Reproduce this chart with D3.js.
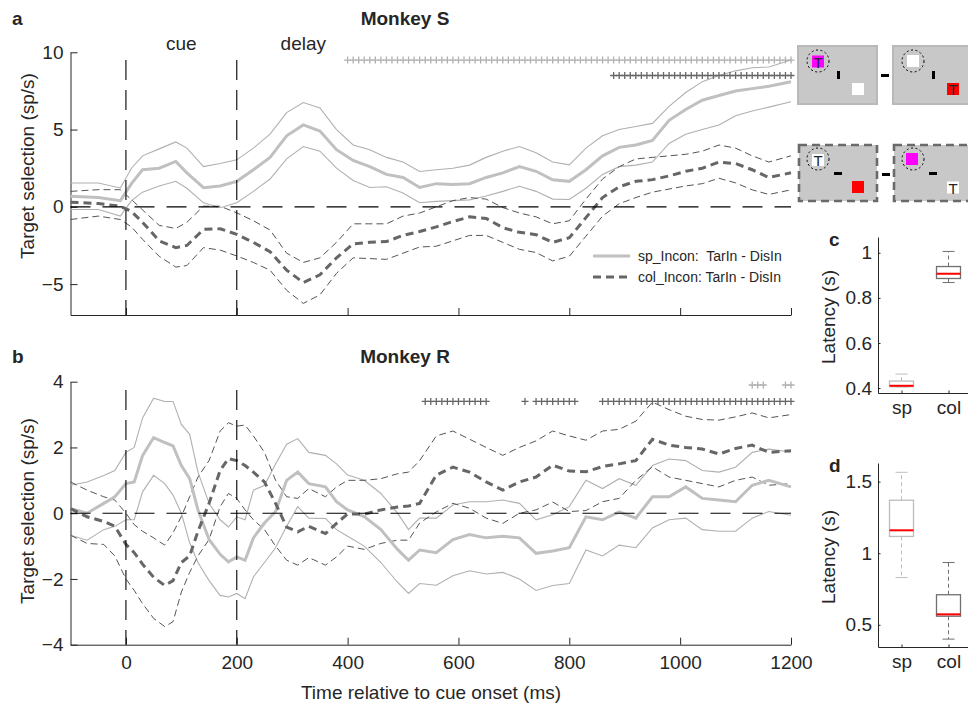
<!DOCTYPE html>
<meta charset="utf-8">
<script src="https://d3js.org/d3.v7.min.js"></script>
<style>
  body { margin: 0; background: #fff; }
  svg text { font-family: "Liberation Sans", Arial, sans-serif; fill: #262626; }
</style>
<div id="fig"></div>
<script>

// ---------- data: panel a (Monkey S) ----------
const timeA = [-100,-50,-10,10,30,60,90,110,140,170,200,230,260,290,320,350,380,410,440,470,500,530,560,590,620,650,680,710,740,770,800,830,860,890,920,950,980,1010,1040,1070,1100,1130,1160,1200];
const spMeanA = [0.68,0.6,0.4,1.5,2.4,2.5,2.94,2.2,1.24,1.35,1.65,2.4,3.2,4.6,5.3,4.9,3.7,3.0,2.6,2.1,1.9,1.25,1.5,1.44,1.5,1.9,2.2,2.6,2.3,1.75,1.65,2.4,3.3,3.85,4.0,4.3,5.6,6.3,6.9,7.2,7.5,7.65,7.8,8.1];
const spHiA = [1.54,1.54,1.22,2.5,3.3,3.75,4.2,3.8,2.6,2.8,3.04,3.8,4.7,6.1,6.75,6.4,5.0,4.0,3.7,3.2,2.9,2.29,2.4,2.5,2.7,3.2,3.6,3.9,3.5,2.9,2.72,3.8,4.6,5.0,5.2,5.4,6.5,7.4,8.1,8.5,8.8,9.0,9.05,9.5];
const spLoA = [-0.17,-0.17,-0.6,0.4,0.95,1.35,1.65,1.2,0.26,-0.06,0.26,1.0,1.8,3.1,3.9,3.6,2.5,1.7,1.25,1.3,0.9,0.26,0.35,0.4,0.45,0.7,1.0,1.33,1.0,0.5,0.47,1.2,2.1,2.6,2.7,2.9,4.1,4.7,5.0,5.3,5.9,6.2,6.45,6.8];
const colMeanA = [0.3,0.21,0.04,-0.3,-1.0,-2.2,-2.64,-2.5,-1.46,-1.42,-1.78,-2.3,-2.9,-4.1,-4.9,-4.4,-3.3,-2.4,-2.3,-2.25,-1.85,-1.6,-1.3,-0.95,-0.65,-0.75,-1.35,-1.65,-1.8,-2.3,-2.0,-0.7,0.6,1.3,1.65,1.76,2.0,2.3,2.5,2.9,2.8,2.4,1.9,2.2];
const colHiA = [1.0,1.11,1.11,0.47,-0.2,-1.2,-1.4,-1.0,0.04,0.04,-0.39,-0.9,-1.5,-3.0,-3.6,-3.3,-2.3,-1.1,-1.1,-1.1,-0.6,-0.4,0.0,0.4,0.6,0.5,-0.05,-0.4,-0.65,-1.1,-0.9,0.5,1.8,2.6,3.1,3.2,3.3,3.4,3.6,4.0,3.8,3.3,2.9,3.3];
const colLoA = [-0.82,-0.6,-0.82,-1.3,-2.1,-3.2,-3.9,-3.8,-2.64,-2.8,-3.18,-3.6,-4.1,-5.4,-6.25,-5.7,-4.3,-3.3,-3.35,-3.4,-3.0,-2.6,-2.55,-2.2,-1.85,-1.85,-2.3,-2.75,-2.96,-3.5,-3.2,-1.9,-0.6,0.2,0.6,0.95,1.15,1.35,1.5,1.85,1.55,1.1,0.8,1.1];
// significant time windows (ms), one "+" per 10 ms bin
const sigSpA = [[400, 1200]];
const sigColA = [[880, 1200]];

// ---------- data: panel b (Monkey R) ----------
const timeB = [-100,-70,-40,-20,0,15,30,50,70,85,100,115,130,150,170,185,200,215,230,250,270,290,310,330,360,380,400,430,460,490,510,530,560,590,620,650,680,710,740,770,800,830,860,890,920,950,980,1010,1040,1070,1100,1130,1160,1200];
const spMeanB = [0.14,0.0,0.3,0.5,0.9,0.95,1.75,2.3,2.15,2.05,1.45,1.05,0.1,-0.8,-1.25,-1.48,-1.33,-1.43,-0.75,-0.3,0.05,1.0,1.25,0.9,0.8,0.35,0.1,-0.1,-0.5,-1.1,-1.43,-1.12,-1.2,-0.8,-0.65,-0.75,-0.7,-0.75,-1.22,-1.15,-1.05,-0.11,-0.2,0.04,-0.15,0.5,0.5,0.8,0.45,0.4,0.35,0.85,1.0,0.8];
const spHiB = [0.85,0.95,1.15,1.3,1.85,2.0,2.9,3.5,3.4,3.4,2.7,2.4,1.25,0.3,-0.2,-0.42,-0.11,-0.2,0.7,0.85,1.5,2.1,2.27,1.85,1.76,1.5,1.16,1.0,0.6,0.0,-0.5,-0.15,-0.15,0.25,0.35,0.35,0.4,0.3,-0.2,-0.05,0.2,1.0,0.75,1.05,0.85,1.45,1.65,1.6,1.3,1.25,1.4,1.85,1.95,1.86];
const spLoB = [-0.67,-0.82,-0.5,-0.4,-0.2,-0.2,0.65,1.15,0.9,0.55,0.0,-0.9,-1.5,-2.05,-2.5,-2.55,-2.44,-2.6,-1.94,-1.5,-1.05,-0.4,0.2,-0.15,-0.16,-0.5,-0.7,-1.0,-1.5,-2.1,-2.44,-2.14,-2.19,-1.9,-1.75,-1.85,-1.8,-2.0,-2.35,-2.2,-2.14,-1.12,-1.3,-0.97,-1.05,-0.45,-0.2,-0.15,-0.5,-0.55,-0.55,-0.15,0.05,-0.06];
const colMeanB = [0.14,-0.11,-0.25,-0.4,-0.95,-1.2,-1.55,-1.95,-2.2,-2.05,-1.5,-1.3,-0.55,0.3,1.3,1.66,1.6,1.45,1.25,0.95,0.3,-0.42,-0.57,-0.4,-0.62,-0.31,-0.02,-0.03,0.1,0.19,0.22,0.3,1.16,1.4,1.25,0.95,0.7,0.95,1.1,1.46,1.28,1.26,1.42,1.5,1.6,2.25,2.07,2.0,1.95,1.8,1.97,2.07,1.85,1.9];
const colHiB = [0.95,0.7,0.5,0.4,0.0,-0.35,-0.55,-0.75,-0.97,-0.6,-0.1,0.5,1.1,1.6,2.5,2.75,2.65,2.68,2.35,1.85,1.0,0.5,0.45,0.75,0.5,0.8,1.0,1.0,1.05,1.2,1.25,1.6,2.35,2.5,2.25,2.0,1.76,2.0,2.2,2.5,2.35,2.22,2.5,2.55,2.8,3.38,3.15,2.95,2.85,2.83,2.93,3.05,2.9,3.0];
const colLoB = [-0.67,-0.92,-0.95,-1.3,-2.0,-2.35,-2.75,-3.2,-3.45,-3.3,-2.4,-1.8,-1.3,-0.8,0.2,0.6,0.45,0.1,-0.2,-0.5,-1.0,-1.43,-1.58,-1.35,-1.58,-1.33,-1.0,-1.1,-0.92,-0.82,-0.82,-0.3,0.04,0.3,0.15,-0.15,-0.31,0.0,0.1,0.34,0.05,0.08,0.35,0.45,1.0,1.41,1.1,1.0,0.9,0.8,1.0,1.1,0.85,0.9];
const sigSpB = [[1130, 1130], [1140, 1150], [1190, 1200]];
const sigColB = [[540, 650], [720, 720], [740, 810], [860, 1200]];

// ---------- data: latency box plots (c, d) ----------
const boxCats = ["sp", "col"];
// [lower whisker, q1, median, q3, upper whisker]
const latencyS = [[0.405, 0.406, 0.41, 0.431, 0.462], [0.868, 0.886, 0.907, 0.939, 1.006]];
const latencyR = [[0.83, 1.117, 1.16, 1.37, 1.565], [0.40, 0.56, 0.573, 0.71, 0.935]];

const xTicks = [0, 200, 400, 600, 800, 1000, 1200];
const yTicksA = [-5, 0, 5, 10];
const yTicksB = [-4, -2, 0, 2, 4];

// ---------- figure ----------
const W = 968, H = 703;
const svg = d3.select("#fig").append("svg").attr("width", W).attr("height", H);

const spThick = "#c0c0c0", spThin = "#b0b0b0", colThick = "#666666", colThin = "#555555";
const ink = "#262626";

function styleAxis(g, fs) {
  g.select(".domain").attr("stroke", ink);
  g.selectAll(".tick line").attr("stroke", ink);
  g.selectAll(".tick text").style("font-size", fs + "px").attr("fill", ink);
}

function tracePanel(o) {
  const x = d3.scaleLinear().domain([-100, 1200]).range([70.5, 791]);
  const y = d3.scaleLinear().domain(o.yDomain).range(o.yRange);
  const g = svg.append("g");

  // axes
  const xa = g.append("g").attr("transform", `translate(0,${o.yRange[0]})`)
    .call(d3.axisBottom(x).tickValues(xTicks).tickSizeInner(-7).tickSizeOuter(0).tickPadding(11)
      .tickFormat(o.xLabels ? d3.format("d") : ""));
  styleAxis(xa, 19);
  const ya = g.append("g").attr("transform", `translate(70.5,0)`)
    .call(d3.axisLeft(y).tickValues(o.yTicks).tickSizeInner(-7).tickSizeOuter(0).tickPadding(7));
  styleAxis(ya, 19);

  const line = d3.line().x((d, i) => x(o.t[i])).y(d => y(d));

  // confidence bounds
  [o.spHi, o.spLo].forEach(s => g.append("path").attr("d", line(s))
    .attr("fill", "none").attr("stroke", spThin).attr("stroke-width", 1.1));
  [o.colHi, o.colLo].forEach(s => g.append("path").attr("d", line(s))
    .attr("fill", "none").attr("stroke", colThin).attr("stroke-width", 1)
    .attr("stroke-dasharray", "7,4"));
  // means
  g.append("path").attr("d", line(o.spMean)).attr("fill", "none")
    .attr("stroke", spThick).attr("stroke-width", 3);
  g.append("path").attr("d", line(o.colMean)).attr("fill", "none")
    .attr("stroke", colThick).attr("stroke-width", 3).attr("stroke-dasharray", "8,5");

  // reference lines
  g.append("line").attr("x1", x(-100)).attr("x2", x(1200)).attr("y1", y(0)).attr("y2", y(0))
    .attr("stroke", "#000").attr("stroke-width", 1.1).attr("stroke-dasharray", "20,12");
  [0, 200].forEach(t => g.append("line").attr("x1", x(t)).attr("x2", x(t))
    .attr("y1", y(o.vTop)).attr("y2", o.yRange[0])
    .attr("stroke", "#000").attr("stroke-width", 1.1).attr("stroke-dasharray", "20,10"));

  // significance markers
  function plus(wins, val, color) {
    const pts = [];
    wins.forEach(w => { for (let t = w[0]; t <= w[1]; t += 10) pts.push(t); });
    g.selectAll(null).data(pts).join("path")
      .attr("d", d => `M${x(d) - 3.5},${y(val)}h7M${x(d)},${y(val) - 3.5}v7`)
      .attr("stroke", color).attr("stroke-width", 1.3).attr("fill", "none");
  }
  plus(o.sigSp, o.sigSpY, "#b0b0b0");
  plus(o.sigCol, o.sigColY, "#666");

  // titles
  g.append("text").attr("x", 405).attr("y", o.titleY).attr("text-anchor", "middle")
    .attr("dominant-baseline", "central").style("font-size", "19px").style("font-weight", "bold")
    .attr("fill", "#000").text(o.title);
  g.append("text").attr("x", 12).attr("y", o.titleY).attr("dominant-baseline", "central")
    .style("font-size", "19px").style("font-weight", "bold").attr("fill", "#000").text(o.letter);
  g.append("text").attr("transform", `translate(27,${o.yLabelY}) rotate(-90)`)
    .attr("text-anchor", "middle").attr("dominant-baseline", "central")
    .style("font-size", "19px").text("Target selection (sp/s)");
  return { x, y, g };
}

const pa = tracePanel({
  t: timeA, spMean: spMeanA, spHi: spHiA, spLo: spLoA, colMean: colMeanA, colHi: colHiA, colLo: colLoA,
  yDomain: [-7, 10], yRange: [315, 52.3], yTicks: yTicksA, xLabels: false, vTop: 9.5,
  sigSp: sigSpA, sigCol: sigColA, sigSpY: 9.5, sigColY: 8.5,
  title: "Monkey S", letter: "a", titleY: 18, yLabelY: 166
});
const pb = tracePanel({
  t: timeB, spMean: spMeanB, spHi: spHiB, spLo: spLoB, colMean: colMeanB, colHi: colHiB, colLo: colLoB,
  yDomain: [-4, 4], yRange: [644.7, 381.7], yTicks: yTicksB, xLabels: true, vTop: 3.75,
  sigSp: sigSpB, sigCol: sigColB, sigSpY: 3.9, sigColY: 3.4,
  title: "Monkey R", letter: "b", titleY: 356, yLabelY: 511
});

// x label, period labels
svg.append("text").attr("x", 431).attr("y", 692).attr("text-anchor", "middle")
  .attr("dominant-baseline", "central").style("font-size", "19px").text("Time relative to cue onset (ms)");
[["cue", 100], ["delay", 320]].forEach(d => svg.append("text")
  .attr("x", pa.x(d[1])).attr("y", 43).attr("text-anchor", "middle")
  .attr("dominant-baseline", "central").style("font-size", "19px").attr("fill", "#000").text(d[0]));

// legend (panel a)
const lg = svg.append("g").attr("transform", "translate(593,0)");
lg.append("line").attr("x1", 0).attr("x2", 37).attr("y1", 256).attr("y2", 256)
  .attr("stroke", spThick).attr("stroke-width", 3);
lg.append("line").attr("x1", 0).attr("x2", 37).attr("y1", 277).attr("y2", 277)
  .attr("stroke", colThick).attr("stroke-width", 3).attr("stroke-dasharray", "8,5");
[["sp_Incon:  TarIn - DisIn", 256], ["col_Incon: TarIn - DisIn", 277]].forEach(d =>
  lg.append("text").attr("x", 45).attr("y", d[1]).attr("dominant-baseline", "central")
    .style("font-size", "14px").style("white-space", "pre").text(d[0]));

// ---------- box plots ----------
function boxPanel(data, yDom, yRng, ticks, letter, labelY) {
  const x = d3.scaleLinear().domain([0.5, 2.5]).range([878, 972]);
  const y = d3.scaleLinear().domain(yDom).range(yRng);
  const g = svg.append("g");
  const xa = g.append("g").attr("transform", `translate(0,${yRng[0]})`)
    .call(d3.axisBottom(x).tickValues([1, 2]).tickFormat((d, i) => boxCats[i])
      .tickSizeInner(-2.5).tickSizeOuter(0).tickPadding(8));
  styleAxis(xa, 19);
  const ya = g.append("g").attr("transform", "translate(878,0)")
    .call(d3.axisLeft(y).tickValues(ticks).tickFormat(d3.format("~g"))
      .tickSizeInner(-2.5).tickSizeOuter(0).tickPadding(6));
  styleAxis(ya, 19);

  const colors = ["#bdbdbd", "#707070"];
  data.forEach((b, i) => {
    const cx = x(i + 1), hw = 12, cw = 6, c = colors[i];
    g.append("line").attr("x1", cx).attr("x2", cx).attr("y1", y(b[3])).attr("y2", y(b[4]))
      .attr("stroke", c).attr("stroke-dasharray", "4,3");
    g.append("line").attr("x1", cx).attr("x2", cx).attr("y1", y(b[1])).attr("y2", y(b[0]))
      .attr("stroke", c).attr("stroke-dasharray", "4,3");
    [b[0], b[4]].forEach(v => g.append("line").attr("x1", cx - cw).attr("x2", cx + cw)
      .attr("y1", y(v)).attr("y2", y(v)).attr("stroke", c));
    g.append("rect").attr("x", cx - hw).attr("width", 2 * hw)
      .attr("y", y(b[3])).attr("height", y(b[1]) - y(b[3]))
      .attr("fill", "none").attr("stroke", c).attr("stroke-width", 1.3);
    g.append("line").attr("x1", cx - hw).attr("x2", cx + hw).attr("y1", y(b[2])).attr("y2", y(b[2]))
      .attr("stroke", "#ff0000").attr("stroke-width", 2);
  });
  g.append("text").attr("x", 829).attr("y", yRng[1] + 2).attr("dominant-baseline", "central")
    .style("font-size", "19px").style("font-weight", "bold").attr("fill", "#000").text(letter);
  g.append("text").attr("transform", `translate(828,${labelY}) rotate(-90)`)
    .attr("text-anchor", "middle").attr("dominant-baseline", "central")
    .style("font-size", "19px").text("Latency (s)");
}
boxPanel(latencyS, [0.378, 1.07], [393, 237], [0.4, 0.6, 0.8, 1], "c", 317);
boxPanel(latencyR, [0.345, 1.63], [647, 463], [0.5, 1, 1.5], "d", 557);

// ---------- task schematics ----------
const icons = svg.append("g");
function screen(x0, y0, w, h, dashed) {
  icons.append("rect").attr("x", x0).attr("y", y0).attr("width", w).attr("height", h)
    .attr("fill", "#c8c8c8").attr("stroke", dashed ? "#6a6a6a" : "#b9b9b9")
    .attr("stroke-width", dashed ? 2.6 : 2).attr("stroke-dasharray", dashed ? "8,5" : null);
}
function sq(x0, y0, fill, withT) {
  icons.append("rect").attr("x", x0).attr("y", y0).attr("width", 12).attr("height", 12).attr("fill", fill);
  if (withT) icons.append("text").attr("x", x0 + 6).attr("y", y0 + 6.5).attr("text-anchor", "middle")
    .attr("dominant-baseline", "central").style("font-size", "15px").attr("fill", "#000").text("T");
}
function ring(cx, cy) {
  icons.append("circle").attr("cx", cx).attr("cy", cy).attr("r", 11).attr("fill", "none")
    .attr("stroke", "#000").attr("stroke-width", 1).attr("stroke-dasharray", "2,2.5");
}
function bar(x0, y0, w, h) {
  icons.append("rect").attr("x", x0).attr("y", y0).attr("width", w).attr("height", h).attr("fill", "#000");
}
// row 1 (spatial)
screen(798, 46, 79, 58, false); screen(893, 46, 90, 58, false);
sq(812, 55.5, "#ff00ff", true); ring(818, 61); bar(837, 71, 3, 8); sq(852, 83, "#fff", false);
bar(881, 74, 8, 3);
sq(907, 55, "#fff", false); ring(913, 61); bar(932, 71, 3, 8); sq(947, 83, "#ff0000", true);
// row 2 (colour)
screen(799, 145, 78, 56, true); screen(894, 145, 90, 56, true);
sq(812, 154, "#fff", true); ring(818, 159); bar(834, 172, 8, 3); sq(852, 181, "#ff0000", false);
bar(882, 173, 8, 3);
sq(906, 153, "#ff00ff", false); ring(913, 159); bar(929, 172, 8, 3); sq(947, 181.5, "#fff", true);

</script>
